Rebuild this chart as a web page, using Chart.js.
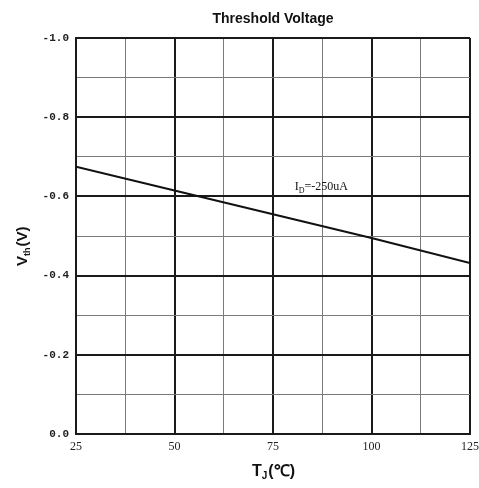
<!DOCTYPE html>
<html>
<head>
<meta charset="utf-8">
<script src="https://cdn.jsdelivr.net/npm/chart.js@4/dist/chart.umd.min.js"></script>
<style>
  html, body { margin: 0; padding: 0; background: #fff; }
  #wrap { width: 479px; height: 488px; position: relative; }
</style>
</head>
<body>
<div id="wrap"><canvas id="c"></canvas></div>
<script>
// ── DATA ──
const tempC   = [25, 50, 75, 100, 125];
const vth     = [-0.675, -0.615, -0.555, -0.495, -0.432];
const xTicks  = [25, 50, 75, 100, 125];
const yTicks  = [-1.0, -0.8, -0.6, -0.4, -0.2, 0.0];
const TITLE   = 'Threshold Voltage';
const NOTE    = { x: 80.5, y: -0.617, main: 'I', sub: 'D', rest: '=-250uA' };

const DARK = '#1a1a1a';
const GREY = '#7a7a7a';

const isMajorX = v => xTicks.some(t => Math.abs(t - v) < 1e-6);
const isMajorY = v => yTicks.some(t => Math.abs(t - v) < 1e-6);

// ── TEXT OVERLAY (title, axis titles with subscripts, curve note) ──
const overlay = {
  id: 'overlay',
  afterDraw(chart) {
    const { ctx, scales: { x, y } } = chart;
    ctx.save();
    ctx.fillStyle = '#111';
    ctx.textBaseline = 'alphabetic';

    // title
    ctx.font = 'bold 14px "Liberation Sans", Arial, sans-serif';
    ctx.textAlign = 'center';
    ctx.fillText(TITLE, 273, 23);

    // x axis title: T_J(℃)
    ctx.textAlign = 'left';
    const xs = 252, xb = 476;
    ctx.font = 'bold 16px "Liberation Sans", Arial, sans-serif';
    ctx.fillText('T', xs, xb);
    let w = ctx.measureText('T').width;
    ctx.font = 'bold 10px "Liberation Sans", Arial, sans-serif';
    ctx.fillText('J', xs + w, xb + 3);
    w += ctx.measureText('J').width;
    ctx.font = 'bold 16px "Liberation Sans", Arial, sans-serif';
    ctx.fillText('(℃)', xs + w + 1, xb);

    // y axis title: V_th(V), rotated
    ctx.translate(27, 266);
    ctx.rotate(-Math.PI / 2);
    ctx.font = 'bold 15px "Liberation Sans", Arial, sans-serif';
    ctx.fillText('V', 0, 0);
    w = ctx.measureText('V').width;
    ctx.font = 'bold 9px "Liberation Sans", Arial, sans-serif';
    ctx.fillText('th', w, 3);
    w += ctx.measureText('th').width;
    ctx.font = 'bold 15px "Liberation Sans", Arial, sans-serif';
    ctx.fillText('(V)', w + 1, 0);
    ctx.setTransform(1, 0, 0, 1, 0, 0);

    // note on the curve
    const nx = x.getPixelForValue(NOTE.x), ny = y.getPixelForValue(NOTE.y);
    ctx.font = '12px "Liberation Serif", "Times New Roman", serif';
    ctx.fillText(NOTE.main, nx, ny);
    w = ctx.measureText(NOTE.main).width;
    ctx.font = '8px "Liberation Serif", "Times New Roman", serif';
    ctx.fillText(NOTE.sub, nx + w, ny + 3);
    w += ctx.measureText(NOTE.sub).width;
    ctx.font = '12px "Liberation Serif", "Times New Roman", serif';
    ctx.fillText(NOTE.rest, nx + w, ny);
    ctx.restore();
  }
};

new Chart(document.getElementById('c'), {
  type: 'line',
  data: {
    datasets: [{
      data: tempC.map((t, i) => ({ x: t, y: vth[i] })),
      borderColor: '#111',
      borderWidth: 2,
      pointRadius: 0,
      tension: 0,
      fill: false,
    }]
  },
  options: {
    responsive: true,
    maintainAspectRatio: false,
    animation: false,
    layout: { padding: { top: 38, right: 0, left: 0, bottom: 0 } },
    plugins: { legend: { display: false }, tooltip: { enabled: false } },
    scales: {
      x: {
        type: 'linear',
        min: 25, max: 125,
        afterFit: s => { s.height = 54; s.paddingRight = 9; },
        afterBuildTicks: s => {
          const t = [];
          for (let v = 25; v <= 125.001; v += 12.5) t.push({ value: v });
          s.ticks = t;
        },
        border: { display: true, color: DARK, width: 2 },
        grid: {
          drawTicks: false,
          color: c => isMajorX(c.tick.value) ? DARK : GREY,
          lineWidth: c => isMajorX(c.tick.value) ? 2 : 1,
        },
        ticks: {
          autoSkip: false,
          maxRotation: 0,
          padding: 6,
          color: '#222',
          font: { family: '"Liberation Serif", "Times New Roman", serif', size: 12 },
          callback: v => isMajorX(v) ? String(v) : '',
        }
      },
      y: {
        type: 'linear',
        min: -1.0, max: 0,
        reverse: true,
        afterFit: s => { s.width = 76; },
        afterBuildTicks: s => {
          const t = [];
          for (let i = 0; i <= 10; i++) t.push({ value: -i / 10 });
          s.ticks = t;
        },
        border: { display: true, color: DARK, width: 2 },
        grid: {
          drawTicks: false,
          color: c => isMajorY(c.tick.value) ? DARK : GREY,
          lineWidth: c => isMajorY(c.tick.value) ? 2 : 1,
        },
        ticks: {
          autoSkip: false,
          padding: 7,
          color: '#222',
          font: { family: '"Liberation Mono", "DejaVu Sans Mono", monospace', size: 11, weight: 'bold' },
          callback: v => isMajorY(v) ? (Math.abs(v) < 1e-9 ? '0.0' : v.toFixed(1)) : '',
        }
      }
    }
  },
  plugins: [overlay]
});
</script>
</body>
</html>
